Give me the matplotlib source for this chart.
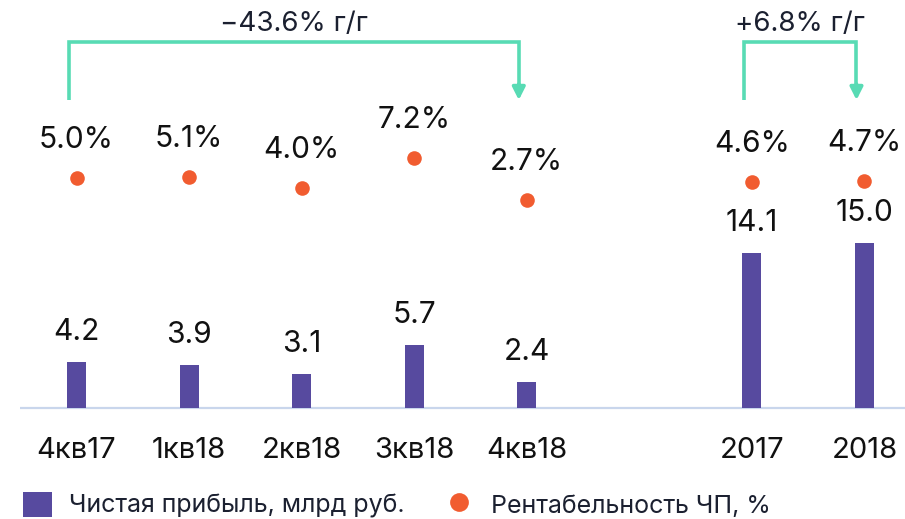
import matplotlib
matplotlib.use("Agg")
import matplotlib.pyplot as plt
from matplotlib.patches import Patch
from matplotlib.lines import Line2D

plt.rcParams['font.family'] = ['Inter', 'DejaVu Sans']

# ---- data ----
categories = ["4кв17", "1кв18", "2кв18", "3кв18", "4кв18", "2017", "2018"]
net_profit = [4.2, 3.9, 3.1, 5.7, 2.4, 14.1, 15.0]          # млрд руб.
margin = [5.0, 5.1, 4.0, 7.2, 2.7, 4.6, 4.7]                # %
bracket_labels = ["\u221243.6% г/г", "+6.8% г/г"]
bracket_spans = [(0, 4), (5, 6)]                            # category index pairs
legend_labels = ["Чистая прибыль, млрд руб.", "Рентабельность ЧП, %"]

# ---- style ----
BAR = "#574a9f"
DOT = "#f15c30"
TEAL = "#58dbb4"
BASE = "#c9d6ec"
TXT = "#1b2030"

W, H, DPI = 905, 519, 100
fig = plt.figure(figsize=(W / DPI, H / DPI), dpi=DPI)

# x positions: quarters, then a gap, then years
xpos = [0, 1, 2, 3, 4, 6, 7]

ax = fig.add_axes([0, 0, 1, 1])
ax2 = ax.twinx()
ax2.set_position([0, 0, 1, 1])

# scales chosen so the baseline sits near the lower edge
ax.set_xlim(-0.68, 7.36)
ax.set_ylim(-10.09, 37.09)
ax2.set_ylim(-31.5, 24.1)
for a in (ax, ax2):
    a.axis("off")

# baseline
ax.plot([-0.50, 7.36], [0, 0], color=BASE, lw=1.6, zorder=1, solid_capstyle="butt")

# bars + value labels
ax.bar(xpos, net_profit, width=0.169, color=BAR, zorder=2)
for x, v in zip(xpos, net_profit):
    ax.annotate(f"{v:.1f}", (x, v), xytext=(0, 22), textcoords="offset pixels",
                ha="center", va="baseline", fontsize=21.5, color="#111111")

# category labels under the baseline
for x, c in zip(xpos, categories):
    ax.annotate(c, (x, 0), xytext=(0, -50), textcoords="offset pixels",
                ha="center", va="baseline", fontsize=21, color="#111111")

# margin dots + labels
ax2.plot(xpos, margin, linestyle="none", marker="o", markersize=10.5,
         color=DOT, markeredgewidth=0, zorder=3)
for x, m in zip(xpos, margin):
    ax2.annotate(f"{m:.1f}%", (x, m), xytext=(0, 30), textcoords="offset pixels",
                 ha="center", va="baseline", fontsize=21.5, color="#111111")

# year-over-year brackets with arrows
def px_to_y(py):
    return ax.transData.inverted().transform((0, H - py))[1]

y_top = px_to_y(42)
y_bot = px_to_y(100)
shift = -0.071
for (i0, i1), lab in zip(bracket_spans, bracket_labels):
    x0 = xpos[i0] + shift
    x1 = xpos[i1] + shift
    ax.plot([x0, x0, x1, x1], [y_bot, y_top, y_top, px_to_y(86)],
            color=TEAL, lw=2.6, solid_capstyle="butt", solid_joinstyle="miter", zorder=2)
    ax.annotate("", xy=(x1, y_bot), xytext=(x1, px_to_y(84)),
                arrowprops=dict(arrowstyle="-|>,head_length=0.75,head_width=0.38",
                                color=TEAL, lw=2.6, shrinkA=0, shrinkB=0))
    ax.text((x0 + x1) / 2, px_to_y(31), lab, ha="center", va="baseline",
            fontsize=20, color=TXT)

# legend
handles = [
    Patch(facecolor=BAR, edgecolor="none"),
    Line2D([], [], linestyle="none", marker="o", markersize=13.5,
           color=DOT, markeredgewidth=0),
]
fig.legend(handles, legend_labels, loc="center left",
           bbox_to_anchor=(23 / W, 1 - 505 / H), ncol=2, frameon=False,
           fontsize=18, labelcolor=TXT, handlelength=1.15, handleheight=1.15,
           handletextpad=0.68, columnspacing=1.62, borderpad=0.0, borderaxespad=0.0)

fig.savefig("out.png", dpi=DPI)
